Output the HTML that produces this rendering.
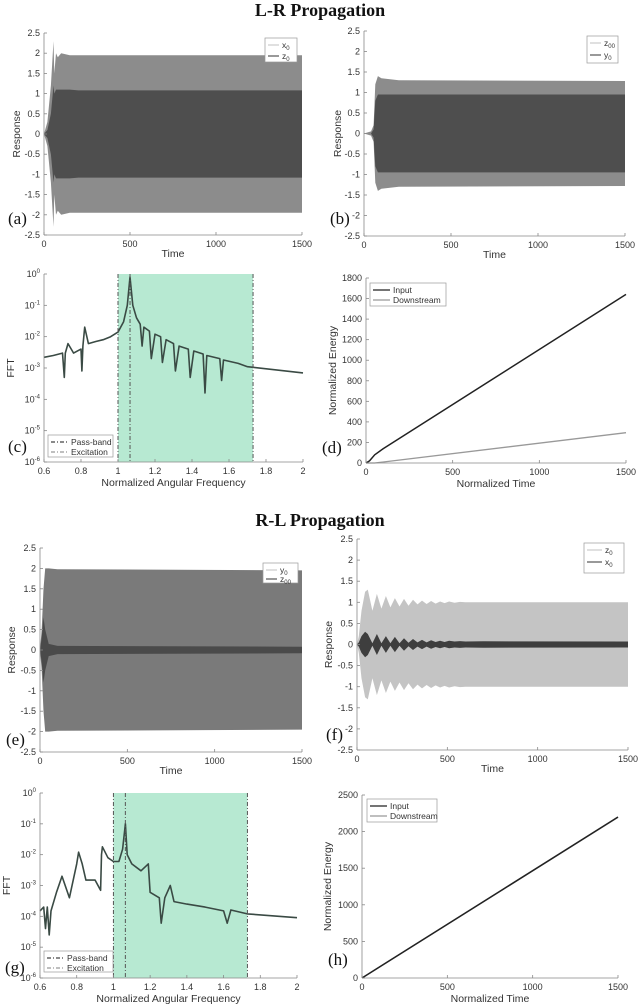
<!DOCTYPE html>
<html><head><meta charset="utf-8"><style>
html,body{margin:0;padding:0;background:#fff;}
svg{display:block;font-family:"Liberation Sans",sans-serif;}
.t{font-family:"Liberation Serif",serif;}
</style></head><body>
<svg id="fig" width="640" height="1006" viewBox="0 0 640 1006" xmlns="http://www.w3.org/2000/svg">
<text x="320" y="16" text-anchor="middle" font-size="18" font-weight="bold" class="t" fill="#111">L-R Propagation</text>
<text x="320" y="526" text-anchor="middle" font-size="18" font-weight="bold" class="t" fill="#111">R-L Propagation</text>
</svg>
<script>
// ---- data ----
const aT = [0,20,40,55,60,70,80,100,150,200,300,1500];
const aLight = [0,0.3,1.2,2.3,1.5,2.0,1.9,2.0,1.95,1.95,1.95,1.95];
const aDark = [0,0.1,0.5,1.2,1.0,1.1,1.1,1.1,1.1,1.08,1.08,1.08];
const bT = [0,40,55,65,80,100,200,1500];
const bLight = [0,0.05,0.2,1.2,1.4,1.35,1.3,1.28];
const bDark = [0,0,0.1,0.8,0.95,0.95,0.95,0.95];
const eT = [0,10,20,30,50,100,1500];
const eLight = [0,0.5,1.5,2.0,2.0,1.98,1.95];
const eDark = [0,0.3,0.8,0.5,0.15,0.1,0.08];
const fT = [0,10,25,45,60,85,110,135,160,185,210,235,260,285,310,335,360,385,410,435,460,485,510,540,570,600,700,1500];
const fLight = [0,0.2,0.8,1.25,1.3,0.8,1.2,0.85,1.15,0.88,1.1,0.9,1.08,0.92,1.06,0.95,1.04,0.96,1.03,0.97,1.02,0.98,1.02,0.99,1.01,1.0,1.0,1.0];
const fDark = [0,0.05,0.2,0.3,0.25,0.03,0.25,0.03,0.2,0.03,0.18,0.03,0.15,0.04,0.13,0.05,0.11,0.05,0.1,0.06,0.09,0.06,0.09,0.07,0.08,0.07,0.075,0.07];
const cF = [0.6,0.65,0.7,0.71,0.715,0.73,0.76,0.8,0.805,0.81,0.82,0.84,0.88,0.92,0.96,1.0,1.03,1.05,1.065,1.08,1.1,1.12,1.13,1.14,1.17,1.18,1.2,1.23,1.24,1.26,1.3,1.31,1.33,1.38,1.39,1.41,1.46,1.47,1.48,1.55,1.56,1.57,1.65,1.7,1.73,2.0];
const cV = [2.2e-3,2.5e-3,3e-3,5e-4,3e-3,6e-3,3e-3,4e-3,8e-4,5e-3,2e-2,6e-3,7e-3,8e-3,1e-2,1.4e-2,3e-2,1e-1,8e-1,1e-1,4e-2,2.5e-2,5e-3,2e-2,1.5e-2,2e-3,1.2e-2,1e-2,1.5e-3,8e-3,6e-3,8e-4,5e-3,4e-3,5e-4,3.5e-3,2.8e-3,1.6e-4,2.5e-3,2e-3,4e-4,1.8e-3,1.4e-3,1.1e-3,1.05e-3,7e-4];
const gF = [0.6,0.62,0.63,0.64,0.65,0.66,0.69,0.72,0.76,0.8,0.81,0.83,0.85,0.9,0.93,0.935,0.94,0.97,1.0,1.03,1.05,1.065,1.075,1.1,1.15,1.19,1.2,1.25,1.26,1.28,1.31,1.33,1.4,1.5,1.6,1.62,1.64,1.73,2.0];
const gV = [1.5e-4,2e-4,4e-5,2e-4,2.5e-5,1.5e-4,6e-4,2e-3,4e-4,5e-3,1.2e-2,5e-3,1.5e-3,1.5e-3,7e-4,1e-2,1.8e-2,8e-3,6e-3,6e-3,1.5e-2,1e-1,1e-2,5e-3,3e-3,5e-3,6e-4,4e-4,6e-5,4e-4,1e-3,3e-4,2.5e-4,2e-4,1.5e-4,6e-5,1.6e-4,1.2e-4,9e-5];
const dT = [0,20,50,100,1500];
const dInput = [0,20,80,140,1640];
const dDownT = [0,50,100,1500];
const dDown = [0,0,10,295];
const hT = [0,1500];
const hInput = [0,2200];
const hDown = [0,2195];
const timeTicks = [0,500,1000,1500];
const respTicks = [-2.5,-2,-1.5,-1,-0.5,0,0.5,1,1.5,2,2.5];
const freqTicks = [0.6,0.8,1,1.2,1.4,1.6,1.8,2];
const logTicks = [-6,-5,-4,-3,-2,-1,0];
const dTicks = [0,200,400,600,800,1000,1200,1400,1600,1800];
const hTicks = [0,500,1000,1500,2000,2500];
const bandEdges = [1.0,1.73];
const excitation = 1.065;

const NS = "http://www.w3.org/2000/svg";
const svg = document.getElementById('fig');
function el(tag, attrs, parent){
  const e = document.createElementNS(NS, tag);
  for (const k in attrs) e.setAttribute(k, attrs[k]);
  (parent||svg).appendChild(e);
  return e;
}
function fmt(v){ return String(v); }

function makeAxes(p){
  const g = el('g', {});
  
  
  p.g = g;
  p.sx = v => p.x0 + (v - p.xmin) / (p.xmax - p.xmin) * (p.x1 - p.x0);
  p.sy = p.log ? (v => p.y1 - (Math.log10(v) - p.ymin) / (p.ymax - p.ymin) * (p.y1 - p.y0))
               : (v => p.y1 - (v - p.ymin) / (p.ymax - p.ymin) * (p.y1 - p.y0));
  return g;
}
function drawAxisLines(p){
  const g = p.g;
  const ax = el('g', {}, g);
  
  
  const xl = el('line', {x1:p.x0, y1:p.y1, x2:p.x1, y2:p.y1, stroke:'#888', 'stroke-width':0.8}, ax);
  
  
  const yl = el('line', {x1:p.x0, y1:p.y0, x2:p.x0, y2:p.y1, stroke:'#888', 'stroke-width':0.8}, ax);
  
  
  p.xticks.forEach(v => {
    const x = p.sx(v);
    const t = el('line', {x1:x, y1:p.y1, x2:x, y2:p.y1-3, stroke:'#888', 'stroke-width':0.8}, ax);
    
    
    const l = el('text', {x:x, y:p.y1+12, 'font-size':9, 'text-anchor':'middle', fill:'#333'}, ax);
    l.textContent = fmt(v);
    
    
  });
  p.yticks.forEach(v => {
    const y = p.log ? p.y1 - (v - p.ymin)/(p.ymax-p.ymin)*(p.y1-p.y0) : p.sy(v);
    const t = el('line', {x1:p.x0, y1:y, x2:p.x0+3, y2:y, stroke:'#888', 'stroke-width':0.8}, ax);
    
    
    const l = el('text', {x:p.x0-4, y:y+3, 'font-size':9, 'text-anchor':'end', fill:'#333'}, ax);
    if (p.log) {
      l.textContent = '10';
      const s = el('tspan', {dy:-4, 'font-size':6}, l);
      s.textContent = String(v);
    } else l.textContent = fmt(v);
    
    
  });
  const xt = el('text', {x:(p.x0+p.x1)/2, y:p.y1+p.xtOff, 'font-size':10.5, 'text-anchor':'middle', fill:'#333'}, ax);
  xt.textContent = p.xtitle;
  
  
  const yx = p.ytX, yy = (p.y0+p.y1)/2;
  const yt = el('text', {x:yx, y:yy, 'font-size':10.5, 'text-anchor':'middle', fill:'#333', transform:'rotate(-90 '+yx+' '+yy+')'}, ax);
  yt.textContent = p.ytitle;
  
  
  const pl = el('text', {x:p.lab[0], y:p.lab[1], 'font-size':17, fill:'#111', 'font-family':'Liberation Serif, serif'}, g);
  pl.textContent = p.label;
  
  
}
function envelope(p, T, A, color, name){
  let d = '';
  T.forEach((t,i) => { d += (i?'L':'M') + p.sx(t).toFixed(1) + ' ' + p.sy(A[i]).toFixed(1) + ' '; });
  for (let i = T.length-1; i >= 0; i--) d += 'L' + p.sx(T[i]).toFixed(1) + ' ' + p.sy(-A[i]).toFixed(1) + ' ';
  const e = el('path', {d:d+'Z', fill:color}, p.g);
  
  
}
function line(p, X, Y, color, w, name){
  const pts = X.map((x,i) => p.sx(x).toFixed(1) + ',' + p.sy(Y[i]).toFixed(1)).join(' ');
  const e = el('polyline', {points:pts, fill:'none', stroke:color, 'stroke-width':w, 'stroke-linejoin':'round'}, p.g);
  
  
}
function legend(p, box, items){
  const lg = el('g', {}, p.g);
  
  
  const r = el('rect', {x:box[0], y:box[1], width:box[2], height:box[3], fill:'#fff', stroke:'#999', 'stroke-width':0.7}, lg);
  
  
  items.forEach((it,i) => {
    const y = box[1] + 7 + i*box[4];
    const s = el('line', {x1:box[0]+3, y1:y, x2:box[0]+box[5], y2:y, stroke:it[1], 'stroke-width':1.2, 'stroke-dasharray':it[2]||''}, lg);
    
    
    const t = el('text', {x:box[0]+box[5]+3, y:y+3, 'font-size':8.5, fill:'#333'}, lg);
    t.innerHTML = it[0];
    
    
  });
}
function sub(a,b){ return a + '<tspan font-size="6" dy="2">' + b + '</tspan>'; }

const L = '#8c8c8c', D = '#4e4e4e';
function resp(name,x0,x1,y0,y1,lab,ytX){
  return {name,x0,x1,y0,y1,xmin:0,xmax:1500,ymin:-2.5,ymax:2.5,xticks:timeTicks,yticks:respTicks,xtitle:'Time',ytitle:'Response',xtOff:22,ytX,label:lab[0],lab:lab.slice(1)};
}
// (a)
let p = resp('response-a',44,302,33,235,['(a)',8,224],20); makeAxes(p);
envelope(p,aT,aLight,L,'series-x0'); envelope(p,aT,aDark,D,'series-z0'); drawAxisLines(p);
legend(p,[265,38,32,24,11,14],[[sub('x','0'),'#ccc'],[sub('z','0'),'#555']]);
// (b)
p = resp('response-b',364,625,31,236,['(b)',330,224],341); makeAxes(p);
envelope(p,bT,bLight,L,'series-z00'); envelope(p,bT,bDark,D,'series-y0'); drawAxisLines(p);
legend(p,[587,36,31,27,12,14],[[sub('z','00'),'#ccc'],[sub('y','0'),'#555']]);
// (e)
p = resp('response-e',40,302,548,752,['(e)',6,745],15); makeAxes(p);
envelope(p,eT,eLight,'#7a7a7a','series-y0'); envelope(p,eT,eDark,'#4a4a4a','series-z00'); drawAxisLines(p);
legend(p,[263,563,35,20,9,14],[[sub('y','0'),'#ccc'],[sub('z','00'),'#555']]);
// (f)
p = resp('response-f',357,628,539,750,['(f)',326,740],332); makeAxes(p);
envelope(p,fT,fLight,'#c4c4c4','series-z0'); envelope(p,fT,fDark,'#3e3e3e','series-x0'); drawAxisLines(p);
legend(p,[584,543,40,30,12,18],[[sub('z','0'),'#ccc'],[sub('x','0'),'#555']]);

function fft(name,x0,x1,y0,y1,F,V,lab,leg){
  const q = {name,x0,x1,y0,y1,xmin:0.6,xmax:2,ymin:-6,ymax:0,log:true,xticks:freqTicks,yticks:logTicks,xtitle:'Normalized Angular Frequency',ytitle:'FFT',xtOff:24,ytX:x0-30,label:lab[0],lab:lab.slice(1)};
  makeAxes(q);
  const bx = q.sx(bandEdges[0]), bw = q.sx(bandEdges[1]) - bx;
  const band = el('rect', {x:bx, y:y0, width:bw, height:y1-y0, fill:'#b7e9d2'}, q.g);
  
  
  line(q,F,V,'#3a4a44',1.6,'fft-curve');
  bandEdges.concat([excitation]).forEach(f => {
    const v = el('line', {x1:q.sx(f), y1:y0, x2:q.sx(f), y2:y1, stroke:'#555', 'stroke-width':1, 'stroke-dasharray':'4,2,1,2'}, q.g);
    
    
  });
  drawAxisLines(q);
  legend(q,leg,[['Pass-band','#444','4,2,1,2'],['Excitation','#999','4,2,1,2']]);
}
fft('fft-c',44,303,274,462,cF,cV,['(c)',8,452],[48,435,65,22,10,20]);
fft('fft-g',40,297,793,978,gF,gV,['(g)',5,973],[44,951,69,21,10,20]);

function energy(name,x0,x1,y0,y1,ymax,ticks,lab,ytX,leg){
  const q = {name,x0,x1,y0,y1,xmin:0,xmax:1500,ymin:0,ymax,xticks:timeTicks,yticks:ticks,xtitle:'Normalized Time',ytitle:'Normalized Energy',xtOff:24,ytX,label:lab[0],lab:lab.slice(1)};
  makeAxes(q); return q;
}
p = energy('energy-d',366,626,278,463,1800,dTicks,['(d)',322,453],336);
line(p,dDownT,dDown,'#999',1.3,'downstream-line'); line(p,dT,dInput,'#222',1.5,'input-line'); drawAxisLines(p);
legend(p,[370,283,76,23,10,20],[['Input','#222'],['Downstream','#999']]);
p = energy('energy-h',362,618,795,978,2500,hTicks,['(h)',328,965],331);
line(p,hT,hDown,'#999',1.3,'downstream-line'); line(p,hT,hInput,'#222',1.5,'input-line'); drawAxisLines(p);
legend(p,[367,799,70,23,10,20],[['Input','#222'],['Downstream','#999']]);
</script>
</body></html>
